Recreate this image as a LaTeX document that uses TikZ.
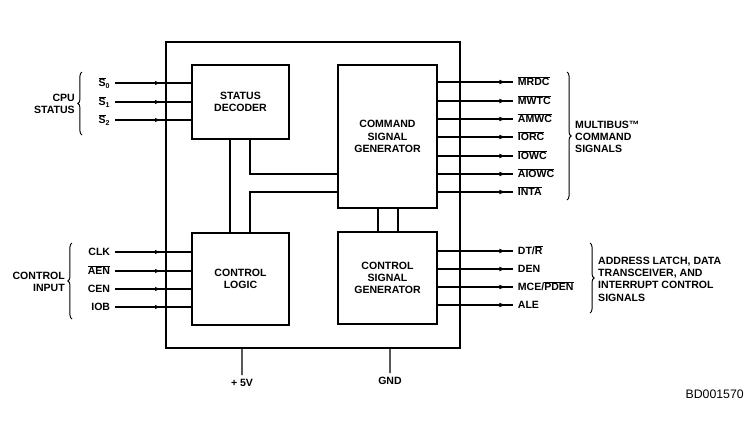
\documentclass[tikz,border=0pt]{standalone}
\usepackage{fontspec}
\setmainfont{Liberation Sans}
\usetikzlibrary{arrows.meta,decorations.markings,decorations.pathreplacing}
\newcommand{\nb}[1]{$\overline{\mbox{#1}}$}
\begin{document}
\begin{tikzpicture}[
    x=0.03cm,y=-0.03cm,
    font=\bfseries\fontsize{9}{10.5}\selectfont,
    block/.style={draw,line width=1.6pt,inner sep=0pt,align=center},
    chipbox/.style={draw,line width=1.1pt},
    wire/.style={line width=0.9pt},
    insig/.style={wire,postaction={decorate},decoration={markings,mark=at position -0.9cm with {\arrow{Latex[length=5pt,width=3.5pt]}}}},
    outsig/.style={wire,postaction={decorate},decoration={markings,mark=at position -0.2cm with {\arrow{Latex[length=6pt,width=4pt]}}}},
    pin/.style={inner xsep=4pt,inner ysep=0pt,text height=6.5pt,text depth=0pt},
    group/.style={inner sep=0pt},
    bracket/.style={line width=0.8pt,decorate,decoration={brace,amplitude=3.5pt}}
]
\useasboundingbox (0,0) rectangle (744,434);

\node[chipbox,minimum width=8.82cm,minimum height=9.18cm] (chip) at (313,195) {};
\node[block,minimum width=2.91cm,minimum height=2.22cm] (SD)  at (240.5,102)  {STATUS\\DECODER};
\node[block,minimum width=2.97cm,minimum height=4.29cm] (CMD) at (387.5,136.5) {COMMAND\\SIGNAL\\GENERATOR};
\node[block,minimum width=2.91cm,minimum height=2.76cm] (CL)  at (240.5,279)  {CONTROL\\LOGIC};
\node[block,minimum width=2.97cm,minimum height=2.76cm] (CSG) at (387.5,278)  {CONTROL\\SIGNAL\\GENERATOR};

\draw[wire] ([xshift=-0.315cm]SD.south) -- ([xshift=-0.315cm]CL.north);
\draw[wire] ([xshift=0.285cm]SD.south) |- ([yshift=-1.125cm]CMD.west);
\draw[wire] ([xshift=0.285cm]CL.north) |- ([yshift=-1.665cm]CMD.west);
\draw[wire] ([xshift=-0.285cm]CMD.south) -- ([xshift=-0.285cm]CSG.north);
\draw[wire] ([xshift=0.315cm]CMD.south) -- ([xshift=0.315cm]CSG.north);

\node[pin,anchor=east] (S0) at (115,83)  {\nb{S}\textsubscript{0}};
\node[pin,anchor=east] (S1) at (115,102) {\nb{S}\textsubscript{1}};
\node[pin,anchor=east] (S2) at (115,120) {\nb{S}\textsubscript{2}};
\draw[insig] (S0.east) -- (S0.east -| SD.west);
\draw[insig] (S1.east) -- (S1.east -| SD.west);
\draw[insig] (S2.east) -- (S2.east -| SD.west);

\node[pin,anchor=east] (CLK) at (115,252) {CLK};
\node[pin,anchor=east] (AEN) at (115,271) {\nb{AEN}};
\node[pin,anchor=east] (CEN) at (115,289) {CEN};
\node[pin,anchor=east] (IOB) at (115,307) {IOB};
\draw[insig] (CLK.east) -- (CLK.east -| CL.west);
\draw[insig] (AEN.east) -- (AEN.east -| CL.west);
\draw[insig] (CEN.east) -- (CEN.east -| CL.west);
\draw[insig] (IOB.east) -- (IOB.east -| CL.west);

\node[pin,anchor=west] (MRDC)  at (513,82)  {\nb{MRDC}};
\node[pin,anchor=west] (MWTC)  at (513,101) {\nb{MWTC}};
\node[pin,anchor=west] (AMWC)  at (513,119) {\nb{AMWC}};
\node[pin,anchor=west] (IORC)  at (513,137) {\nb{IORC}};
\node[pin,anchor=west] (IOWC)  at (513,156) {\nb{IOWC}};
\node[pin,anchor=west] (AIOWC) at (513,174) {\nb{AIOWC}};
\node[pin,anchor=west] (INTA)  at (513,192) {\nb{INTA}};
\draw[outsig] (MRDC.west -| CMD.east) -- (MRDC.west);
\draw[outsig] (MWTC.west -| CMD.east) -- (MWTC.west);
\draw[outsig] (AMWC.west -| CMD.east) -- (AMWC.west);
\draw[outsig] (IORC.west -| CMD.east) -- (IORC.west);
\draw[outsig] (IOWC.west -| CMD.east) -- (IOWC.west);
\draw[outsig] (AIOWC.west -| CMD.east) -- (AIOWC.west);
\draw[outsig] (INTA.west -| CMD.east) -- (INTA.west);

\node[pin,anchor=west] (DTR)  at (513,251) {DT/\nb{R}};
\node[pin,anchor=west] (DEN)  at (513,269) {DEN};
\node[pin,anchor=west] (MCE)  at (513,287) {MCE/\nb{PDEN}};
\node[pin,anchor=west] (ALE)  at (513,305) {ALE};
\draw[outsig] (DTR.west -| CSG.east) -- (DTR.west);
\draw[outsig] (DEN.west -| CSG.east) -- (DEN.west);
\draw[outsig] (MCE.west -| CSG.east) -- (MCE.west);
\draw[outsig] (ALE.west -| CSG.east) -- (ALE.west);

\draw[bracket] (82,135) -- (82,72);
\draw[bracket] (72,319) -- (72,243);
\draw[bracket] (567,72) -- (567,200);
\draw[bracket] (590,243) -- (590,313);
\node[group,align=right,anchor=east] (cpu)  at (75,104) {CPU\\STATUS};
\node[group,align=right,anchor=east] (ctl)  at (65,282) {CONTROL\\INPUT};
\node[group,align=left,anchor=west]  (mbus) at (575,137) {MULTIBUS™\\COMMAND\\SIGNALS};
\node[group,align=left,anchor=west]  (addr) at (598,279) {ADDRESS LATCH, DATA\\TRANSCEIVER, AND\\INTERRUPT CONTROL\\SIGNALS};

\node (vcc) at (242,383) {+ 5V};
\node (gnd) at (390,381) {GND};
\draw[wire] ([xshift=-2.13cm]chip.south) -- (vcc.north);
\draw[wire] ([xshift=2.31cm]chip.south) -- (gnd.north);

\node[font=\fontsize{10.5}{12}\selectfont,inner sep=0pt,anchor=east] (id) at (744,394) {BD001570};
\end{tikzpicture}
\end{document}
